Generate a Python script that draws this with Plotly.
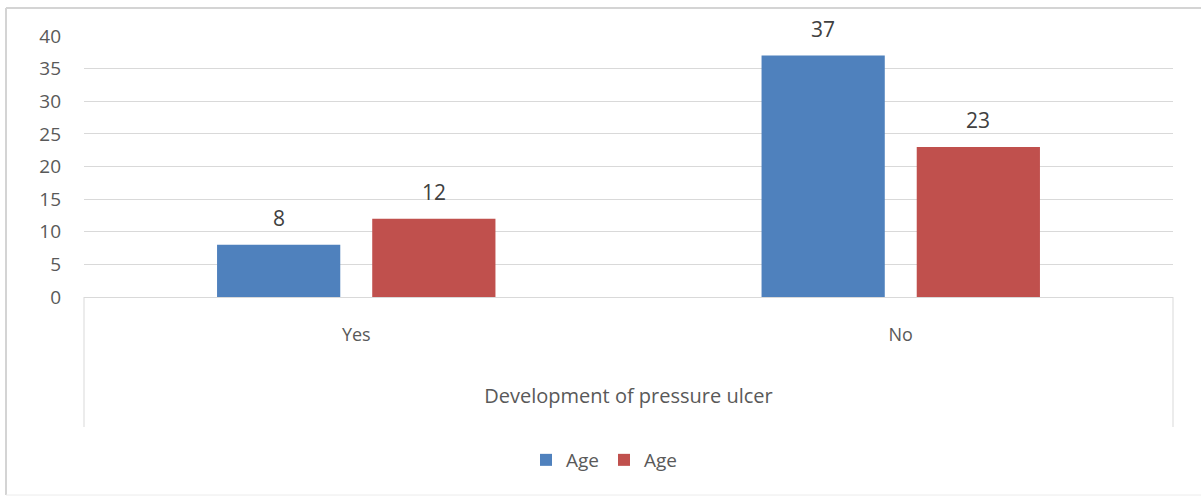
import plotly.graph_objects as go

# Data
categories = ["Yes", "No"]
series_names = ["Age", "Age"]
series_a = [8, 37]
series_b = [12, 23]
colors = ["#4f81bd", "#c0504d"]
y_ticks = [0, 5, 10, 15, 20, 25, 30, 35, 40]

W, H = 1201, 496
L, R, T, B = 84, 28, 36, 199
plot_w = W - L - R
plot_h = H - T - B

BARGAP, GROUPGAP = 0.43, 0.206


def px_x(p):
    return (p - L) / plot_w


def px_y(p):
    return (H - B - p) / plot_h


FONT = "Open Sans"
GREY = "#595959"

fig = go.Figure()
for name, vals, col in zip(series_names, [series_a, series_b], colors):
    fig.add_trace(go.Bar(
        x=categories, y=vals, name=name,
        marker=dict(color=col, line=dict(width=0)),
        hoverinfo="x+y",
    ))

# value labels above each bar, centred on the bar within its group
cat_px = plot_w / len(categories)
slot_px = cat_px * (1 - BARGAP) / 2
annotations = []
for i, vals in enumerate([series_a, series_b]):
    offset = (i - 0.5) * slot_px
    for cat, v in zip(categories, vals):
        annotations.append(dict(
            x=cat, y=v, xref="x", yref="y", text=str(v),
            showarrow=False, xanchor="center", yanchor="bottom",
            xshift=offset, yshift=11,
            font=dict(family=FONT, size=21, color="#404040"),
        ))

shapes = [
    # outer chart frame
    dict(type="line", xref="paper", yref="paper", x0=px_x(6), x1=px_x(1210),
         y0=px_y(8), y1=px_y(8), line=dict(color="#d4d4d4", width=2)),
    dict(type="line", xref="paper", yref="paper", x0=px_x(6), x1=px_x(6),
         y0=px_y(8), y1=px_y(495), line=dict(color="#d4d4d4", width=2)),
    dict(type="line", xref="paper", yref="paper", x0=px_x(6), x1=px_x(1210),
         y0=px_y(495), y1=px_y(495), line=dict(color="#ececec", width=1)),
    # category table dividers under the axis
    dict(type="line", xref="paper", yref="paper", x0=0, x1=0,
         y0=0, y1=px_y(427), line=dict(color="#d9d9d9", width=1)),
    dict(type="line", xref="paper", yref="paper", x0=1, x1=1,
         y0=0, y1=px_y(427), line=dict(color="#d9d9d9", width=1)),
]

fig.update_layout(
    width=W, height=H,
    margin=dict(l=L, r=R, t=T, b=B, pad=0),
    paper_bgcolor="white", plot_bgcolor="white",
    barmode="group", bargap=BARGAP, bargroupgap=GROUPGAP,
    font=dict(family=FONT, size=18, color=GREY),
    showlegend=True,
    legend=dict(orientation="h", x=px_x(604), xanchor="center",
                y=px_y(460), yanchor="middle",
                font=dict(family=FONT, size=19, color=GREY),
                itemwidth=30, tracegroupgap=0),
    shapes=shapes,
    annotations=annotations,
    xaxis=dict(
        showgrid=False, showline=False, ticks="",
        tickfont=dict(family=FONT, size=18, color=GREY),
        ticklabelstandoff=25,
        title=dict(text="Development of pressure ulcer",
                   font=dict(family=FONT, size=20, color=GREY),
                   standoff=43),
    ),
    yaxis=dict(
        range=[0, 40], tickvals=y_ticks,
        showgrid=True, gridcolor="#d9d9d9", gridwidth=1,
        zeroline=True, zerolinecolor="#d9d9d9", zerolinewidth=1,
        showline=False, ticks="",
        tickfont=dict(family=FONT, size=19, color=GREY),
        ticklabelstandoff=22,
    ),
)

fig.write_html("out.html")
